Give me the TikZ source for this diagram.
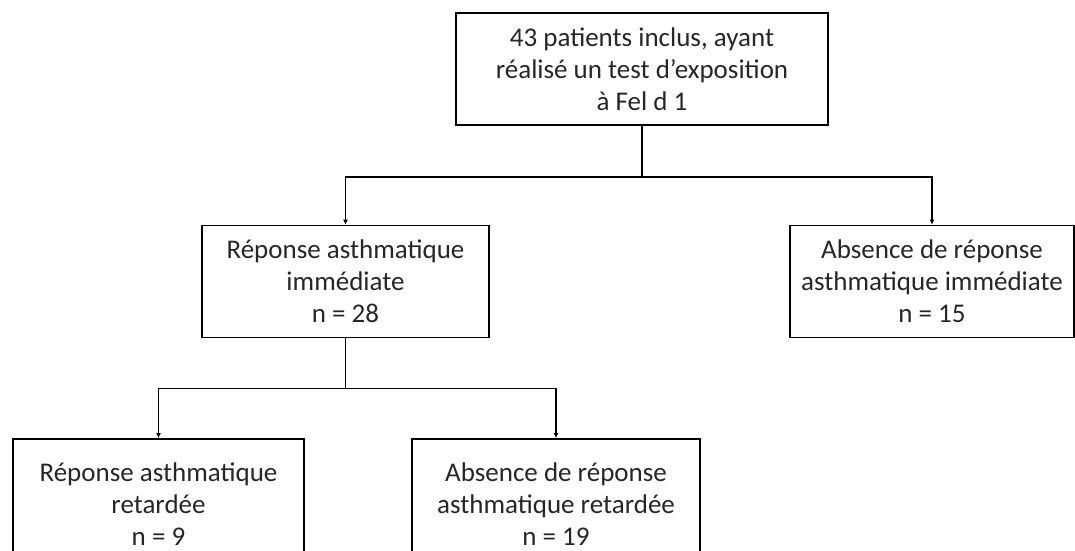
\documentclass[tikz,border=0pt]{standalone}
\usepackage{fontspec}
\setmainfont{Carlito}
\usepackage{tikz}
\usetikzlibrary{positioning,arrows.meta}

\begin{document}
\begin{tikzpicture}[
  x=1pt, y=-1pt,
  every node/.style={font=\fontsize{27}{32}\selectfont, align=center, text=black!85},
  box/.style={draw, line width=1.8pt, inner sep=0pt, minimum width=#1, minimum height=112},
  arr/.style={draw, line width=1.8pt, -{Latex[length=5pt,width=5pt]}}
]
% Frame
\useasboundingbox (0,0) rectangle (1075,550);

% Root
\node[box=372] (top) at (642,69) {43 patients inclus, ayant\\réalisé un test d'exposition\\à Fel d 1};

% Immediate response
\node[box=287] (imm) at (345.5,281.5) {Réponse asthmatique\\immédiate\\n = 28};
\node[box=284] (noimm) at (932,281.5) {Absence de réponse\\asthmatique immédiate\\n = 15};

% Late response
\node[box=291, minimum height=130] (ret) at (158.5,504) {Réponse asthmatique\\retardée\\n = 9};
\node[box=288, minimum height=130] (noret) at (556,504) {Absence de réponse\\asthmatique retardée\\n = 19};

% Links
\draw[arr] (top.south) -- ++(0,51) -| (imm.north);
\draw[arr] (top.south) -- ++(0,51) -| (noimm.north);
\draw[arr] (imm.south) -- ++(0,50) -| (ret.north);
\draw[arr] (imm.south) -- ++(0,50) -| (noret.north);

\end{tikzpicture}
\end{document}
